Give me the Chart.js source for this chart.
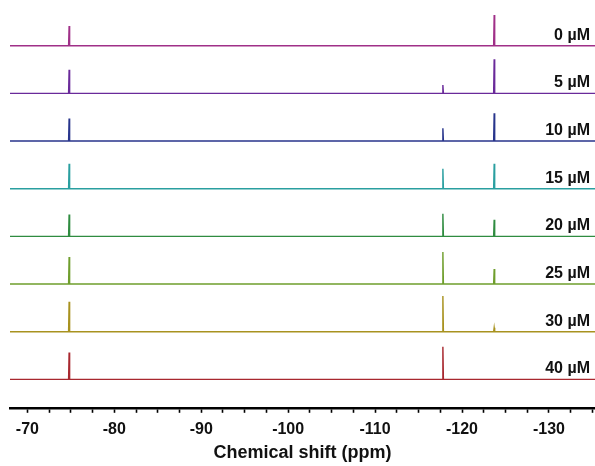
<!DOCTYPE html>
<html>
<head>
<meta charset="utf-8">
<script src="https://cdn.jsdelivr.net/npm/chart.js@4.4.1/dist/chart.umd.min.js"></script>
<style>
    html, body { margin: 0; padding: 0; background: #fff; }
    #wrap { width: 595px; height: 466px; }
</style>
</head>
<body>
<div id="wrap"><canvas id="nmr-chart" width="595" height="466"></canvas></div>
<script>
// ── 19F NMR titration stack — one trace per concentration, top to bottom ─────

const concentrations = ['0 µM', '5 µM', '10 µM', '15 µM', '20 µM', '25 µM', '30 µM', '40 µM'];

// peak positions (ppm)
const peakShifts = [-74.8, -117.8, -123.7];

// peak intensities per trace, same order as concentrations
const peakA = [19.7, 23.5, 22.5, 25.0, 22.0, 27.0, 30.0, 27.0];   // -74.8
const peakB = [0.0, 8.3, 12.7, 20.0, 22.7, 32.0, 35.7, 32.7];     // -117.8
const peakC = [30.7, 34.0, 27.7, 25.0, 16.7, 15.0, 4.0, 0.0];     // -123.7

const xTickLabels = [-70, -80, -90, -100, -110, -120, -130];

const traceColors = ['#a03088', '#6a2a9a', '#28358c', '#2a9fa0', '#2f8c40', '#6f9e2d', '#a8921f', '#a8282f'];

const X_LEFT = -68, X_RIGHT = -135.3;
const HALF_WIDTH = 0.06;       // half base width of a peak, ppm
const STACK_GAP = 47.7;        // vertical offset between traces
const STACK_BASE = 28.4;       // offset of the lowest trace
const FONT = "'Liberation Sans', Arial, Helvetica, sans-serif";

function traceOffset(i) {
    return STACK_BASE + (concentrations.length - 1 - i) * STACK_GAP;
}

function buildTrace(i) {
    const base = traceOffset(i);
    const heights = [peakA[i], peakB[i], peakC[i]];
    const pts = [{ x: X_LEFT, y: base }];
    peakShifts.forEach((p, k) => {
        pts.push({ x: p + HALF_WIDTH, y: base });
        pts.push({ x: p, y: base + heights[k] });
        pts.push({ x: p - HALF_WIDTH, y: base });
    });
    pts.push({ x: X_RIGHT, y: base });
    return pts;
}

const datasets = concentrations.map((label, i) => ({
    label,
    data: buildTrace(i),
    borderColor: traceColors[i],
    backgroundColor: 'transparent',
    borderWidth: 1.4,
    pointRadius: 0,
    tension: 0
}));

// concentration labels above the right end of each trace
const traceLabels = {
    id: 'traceLabels',
    afterDatasetsDraw(chart) {
        const { ctx, scales } = chart;
        ctx.save();
        ctx.font = 'bold 16px ' + FONT;
        ctx.fillStyle = '#111';
        ctx.textAlign = 'right';
        ctx.textBaseline = 'alphabetic';
        concentrations.forEach((label, i) => {
            const y = scales.y.getPixelForValue(traceOffset(i)) - 6;
            ctx.fillText(label, 590, y);
        });
        ctx.restore();
    }
};

new Chart(document.getElementById('nmr-chart').getContext('2d'), {
    type: 'line',
    data: { datasets },
    plugins: [traceLabels],
    options: {
        responsive: false,
        animation: false,
        layout: { padding: { left: 10, right: 0, top: 0, bottom: 0 } },
        plugins: { legend: { display: false }, tooltip: { enabled: false } },
        scales: {
            x: {
                type: 'linear',
                reverse: true,
                min: X_RIGHT,
                max: X_LEFT,
                // keep the plot running to the canvas edges
                afterFit(scale) {
                    scale.paddingLeft = 0;
                    scale.paddingRight = 0;
                },
                border: { display: true, color: '#000', width: 2.5 },
                grid: {
                    drawOnChartArea: false,
                    drawTicks: true,
                    tickLength: 5,
                    tickColor: '#000',
                    tickWidth: 1.6
                },
                ticks: {
                    stepSize: 2.5,
                    autoSkip: false,
                    includeBounds: false,
                    maxRotation: 0,
                    padding: 7,
                    color: '#111',
                    font: { family: FONT, size: 16, weight: 'bold' },
                    callback: v => xTickLabels.includes(v) ? String(v) : ''
                },
                title: {
                    display: true,
                    text: 'Chemical shift (ppm)',
                    color: '#111',
                    font: { family: FONT, size: 18, weight: 'bold', lineHeight: 1.0 },
                    padding: { top: -2, bottom: 4 }
                }
            },
            y: {
                display: false,
                min: 0,
                max: 408
            }
        }
    }
});
</script>
</body>
</html>
